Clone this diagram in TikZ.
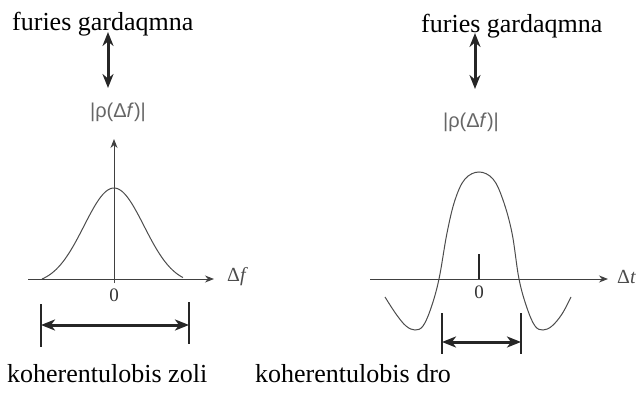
\documentclass[tikz,border=0pt]{standalone}
\usepackage{fontspec}
\setmainfont{Liberation Serif}
\newfontfamily\lsans{Liberation Sans}
\usetikzlibrary{arrows.meta}
\begin{document}
\begin{tikzpicture}[x=1pt,y=-1pt,
  title/.style={inner sep=0pt, font=\fontsize{26}{30}\selectfont, anchor=base west},
  rholabel/.style={inner sep=0pt, text=black!60, font=\lsans\fontsize{20}{24}\selectfont},
  axislabel/.style={inner sep=0pt, text=black!70, font=\fontsize{20}{24}\selectfont},
  zerolabel/.style={inner sep=0pt, text=black!80, font=\fontsize{19}{22}\selectfont},
  dbl/.style={line width=3pt, black!85, {Stealth[length=14pt,width=11pt]}-{Stealth[length=14pt,width=11pt]}},
  axis/.style={line width=1pt, black!75, -{Stealth[length=9pt,width=7pt]}},
  curve/.style={line width=1pt, black!70},
  tick/.style={line width=1.2pt, black!85},
  dim/.style={line width=3pt, black!85, {Stealth[length=14pt,width=11pt,inset=4pt]}-{Stealth[length=14pt,width=11pt,inset=4pt]}}]
\useasboundingbox (0,0) rectangle (636,393);
\clip (0,0) rectangle (636,393);
% ---------- left panel ----------
\node[title] (tL) at (12,31) {furies gardaqmna};
\coordinate (aL1) at (108,32);
\coordinate (aL2) at (108,88);
\draw[dbl] (aL1) -- (aL2);
\node[rholabel] (rL) at (118,112) {|ρ(Δ\textit{f})|};
\coordinate (oL) at (114,279);
\coordinate (yL) at (114,139);
\coordinate (xL0) at (28,279);
\coordinate (xL1) at (214,279);
\draw[axis] (oL) -- (yL);
\draw[curve] (114,283) -- (oL);
\draw[axis] (xL0) -- (xL1);
\node[axislabel, anchor=west] (dfL) at (227,277) {Δ\textit{f}};
\node[zerolabel] (zL) at (114,295) {0};
\draw[curve] plot[domain=42:183, samples=80] (\x, {279 - 96.4*(exp(-(\x-114)*(\x-114)/1800) - 0.0561)});
\coordinate (tL1a) at (41,304); \coordinate (tL1b) at (41,347);
\coordinate (tL2a) at (189,302); \coordinate (tL2b) at (189,344);
\draw[tick] (tL1a) -- (tL1b);
\draw[tick] (tL2a) -- (tL2b);
\coordinate (dL1) at (41,325); \coordinate (dL2) at (189,325);
\draw[dim] (dL1) -- (dL2);
\node[title] (bL) at (7,382) {koherentulobis zoli};
% ---------- right panel ----------
\node[title] (tR) at (421,33) {furies gardaqmna};
\coordinate (aR1) at (475,33);
\coordinate (aR2) at (475,89);
\draw[dbl] (aR1) -- (aR2);
\node[rholabel] (rR) at (471,122) {|ρ(Δ\textit{f})|};
\coordinate (xR0) at (370,279);
\coordinate (xR1) at (608,279);
\draw[axis] (xR0) -- (xR1);
\node[axislabel, anchor=west] (dtR) at (617,277) {Δ\textit{t}};
\coordinate (oR) at (479,279);
\draw[tick] (479,254) -- (oR);
\node[zerolabel] (zR) at (479,292) {0};
\draw[curve] plot[smooth, tension=0.6] coordinates {(385,297) (396,314) (406,326) (415,330) (423,326) (431,308) (439,279) (447,233) (455,200) (465,179) (479,172) (493,179) (503,200) (512,233) (519,279) (527,308) (535,326) (543,330) (552,326) (562,314) (571,297)};
\coordinate (tR1a) at (442,313); \coordinate (tR1b) at (442,354);
\coordinate (tR2a) at (521,313); \coordinate (tR2b) at (521,354);
\draw[tick] (tR1a) -- (tR1b);
\draw[tick] (tR2a) -- (tR2b);
\coordinate (dR1) at (442,342); \coordinate (dR2) at (521,342);
\draw[dim] (dR1) -- (dR2);
\node[title] (bR) at (255,382) {koherentulobis dro};
\end{tikzpicture}
\end{document}
